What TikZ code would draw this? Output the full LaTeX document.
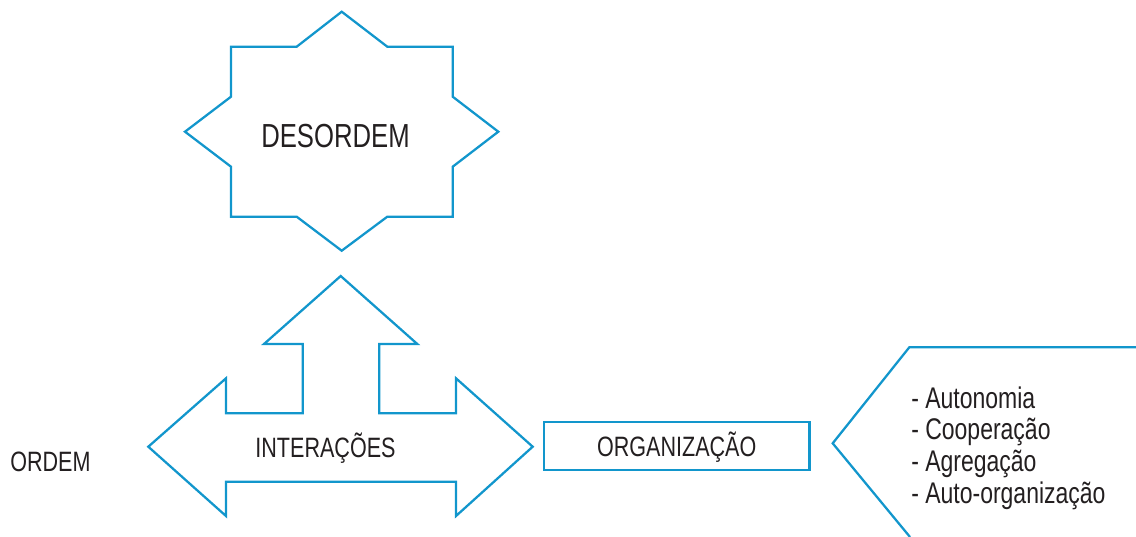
\documentclass[tikz,border=0pt]{standalone}
\usepackage{fontspec}
\setmainfont{Liberation Sans}[FakeStretch=0.77]
\definecolor{linha}{RGB}{18,150,204}
\definecolor{texto}{RGB}{35,31,32}

\begin{document}
\begin{tikzpicture}[x=0.75pt,y=-0.75pt,
  contorno/.style={draw=linha,line width=1.7pt,line join=miter},
  rotulo/.style={text=texto,font=\fontsize{21}{24}\selectfont,inner sep=0}]

  \useasboundingbox (0,0) rectangle (1136,536);

  % estrela
  \draw[contorno] (341.7,11.7) -- (387.3,46.7) -- (452.7,46.7) -- (452.7,96.7)
    -- (498.3,131.7) -- (452.7,166.7) -- (452.7,216.7) -- (387.3,216.7)
    -- (341.7,250.7) -- (296.7,216.7) -- (231,216.7) -- (231,166.7)
    -- (185,131.7) -- (231,96.7) -- (231,46.7) -- (296.7,46.7) -- cycle;
  \node (desordem) at (335.5,147) [rotulo,anchor=base,font=\fontsize{25}{28}\selectfont]{DESORDEM};

  % seta tripla
  \draw[contorno] (340.7,276) -- (417.3,344) -- (379.3,344) -- (379.3,413.3)
    -- (456,413.3) -- (456,378.3) -- (532.7,446.7) -- (456,516) -- (456,481.7)
    -- (226,481.7) -- (226,516) -- (148.3,446.7) -- (226,378.3) -- (226,413.3)
    -- (302.7,413.3) -- (302.7,344) -- (264,344) -- cycle;
  \node (interacoes) at (325.5,457) [rotulo,anchor=base]{INTERAÇÕES};

  \node (ordem) at (10,471) [rotulo,anchor=base west]{ORDEM};

  \node (organizacao) at (676.7,446) [rotulo,contorno,minimum width=199pt,
    minimum height=35.5pt,text height=15pt,text depth=0pt]{ORGANIZAÇÃO};

  \coordinate (chtopo) at (1136,347.3);
  \coordinate (chponta) at (832.7,443.3);
  \coordinate (chbase) at (910,537);
  \draw[contorno] (chtopo) -- (909.3,347.3) -- (chponta) -- (chbase);

  \foreach \termo [count=\i] in {Autonomia,Cooperação,Agregação,Auto-organização}
    \node (termo\i) at (911,376.3+31.7*\i) [rotulo,anchor=base west,
      font=\fontsize{22.4}{24}\selectfont]{- \termo};

\end{tikzpicture}
\end{document}
